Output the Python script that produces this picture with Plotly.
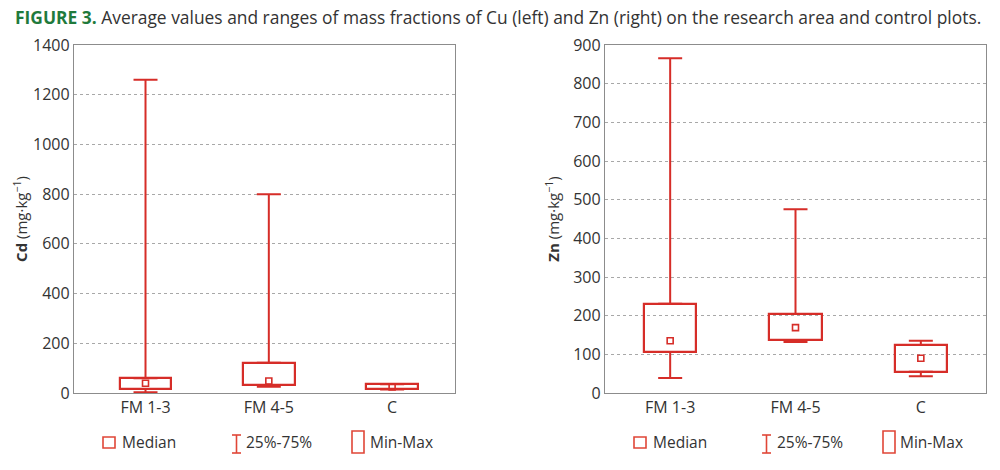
import plotly.graph_objects as go

# ---------------- data ----------------
categories = ["FM 1-3", "FM 4-5", "C"]
positions = [0, 1, 2]

cd_min = [3, 25, 14]
cd_q1 = [16, 32, 15]
cd_median = [39, 48, 24]
cd_q3 = [59, 122, 35]
cd_max = [1260, 800, 36]

zn_min = [39, 132, 43]
zn_q1 = [106, 137, 55]
zn_median = [135, 169, 90]
zn_q3 = [231, 204, 124]
zn_max = [866, 475, 135]

cd_ticks = [0, 200, 400, 600, 800, 1000, 1200, 1400]
zn_ticks = [0, 100, 200, 300, 400, 500, 600, 700, 800, 900]

legend_labels = ["Median", "25%-75%", "Min-Max"]

# ---------------- style ----------------
RED = "rgb(214,45,40)"
LEG_RED = "rgb(224,70,55)"
TXT = "#333333"
FONT = "Open Sans"
W, H = 1000, 470


def px_x(x):
    return x / W


def px_y(y):
    return 1 - y / H


fig = go.Figure()


def add_group(xa, ya, vmin, q1, med, q3, vmax):
    fig.add_trace(go.Bar(
        x=positions, base=q1, y=[b - a for a, b in zip(q1, q3)],
        width=0.42, marker=dict(color="rgba(255,255,255,0)", line=dict(color=RED, width=2.2)),
        xaxis=xa, yaxis=ya, showlegend=False, hoverinfo="skip"))
    fig.add_trace(go.Scatter(
        x=positions, y=q3, mode="markers", marker=dict(size=1, color="rgba(0,0,0,0)"),
        error_y=dict(type="data", symmetric=False, array=[b - a for a, b in zip(q3, vmax)],
                     arrayminus=[0, 0, 0], color=RED, thickness=2, width=12),
        xaxis=xa, yaxis=ya, showlegend=False, hoverinfo="skip"))
    fig.add_trace(go.Scatter(
        x=positions, y=q1, mode="markers", marker=dict(size=1, color="rgba(0,0,0,0)"),
        error_y=dict(type="data", symmetric=False, array=[0, 0, 0],
                     arrayminus=[a - b for a, b in zip(q1, vmin)], color=RED, thickness=2, width=12),
        xaxis=xa, yaxis=ya, showlegend=False, hoverinfo="skip"))
    fig.add_trace(go.Scatter(
        x=positions, y=med, mode="markers",
        marker=dict(symbol="square-open", size=6, color=RED, line=dict(width=1.6, color=RED)),
        xaxis=xa, yaxis=ya, showlegend=False, hoverinfo="skip"))


add_group("x", "y", cd_min, cd_q1, cd_median, cd_q3, cd_max)
add_group("x2", "y2", zn_min, zn_q1, zn_median, zn_q3, zn_max)

ydom = [px_y(393), px_y(45)]
axis_common = dict(showline=True, mirror=True, linecolor="#8c8c8c", linewidth=1.3,
                   zeroline=False, automargin=False,
                   tickfont=dict(family=FONT, size=16, color=TXT))

fig.update_layout(
    width=W, height=H,
    margin=dict(l=0, r=0, t=0, b=0),
    paper_bgcolor="white", plot_bgcolor="white",
    font=dict(family=FONT, color=TXT),
    bargap=0,
    xaxis=dict(domain=[px_x(74), px_x(455)], range=[-0.58, 2.51], tickvals=positions,
               ticktext=categories, showgrid=False, anchor="y", **axis_common),
    yaxis=dict(domain=ydom, range=[0, 1400], tickvals=cd_ticks, showgrid=True,
               gridcolor="#a8a8a8", griddash="dot", gridwidth=1, anchor="x",
               title=dict(text="<b>Cd</b> (mg·kg<sup>−1</sup>)", font=dict(family=FONT, size=15, color=TXT),
                          standoff=1),
               **axis_common),
    xaxis2=dict(domain=[px_x(605), px_x(986)], range=[-0.52, 2.52], tickvals=positions,
                ticktext=categories, showgrid=False, anchor="y2", **axis_common),
    yaxis2=dict(domain=ydom, range=[0, 900], tickvals=zn_ticks, showgrid=True,
                gridcolor="#a8a8a8", griddash="dot", gridwidth=1, anchor="x2",
                title=dict(text="<b>Zn</b> (mg·kg<sup>−1</sup>)", font=dict(family=FONT, size=15, color=TXT),
                           standoff=9),
                **axis_common),
)

fig.add_annotation(
    xref="paper", yref="paper", x=px_x(13), y=px_y(17), xanchor="left", yanchor="middle",
    showarrow=False,
    text='<b><span style="color:#1f7a3c">FIGURE 3.</span></b> Average values and ranges of mass fractions of Cu (left) and Zn (right) on the research area and control plots.',
    font=dict(family=FONT, size=17.4, color=TXT))


def add_legend(sq_x, bar_x, rect_x, txt_x):
    fig.add_shape(type="rect", xref="paper", yref="paper",
                  x0=px_x(sq_x), x1=px_x(sq_x + 12), y0=px_y(448), y1=px_y(437),
                  line=dict(color=LEG_RED, width=1.6))
    cx = bar_x + 4.5
    fig.add_shape(type="line", xref="paper", yref="paper",
                  x0=px_x(cx), x1=px_x(cx), y0=px_y(453), y1=px_y(435),
                  line=dict(color=LEG_RED, width=1.6))
    for yy in (435, 453):
        fig.add_shape(type="line", xref="paper", yref="paper",
                      x0=px_x(bar_x), x1=px_x(bar_x + 9), y0=px_y(yy), y1=px_y(yy),
                      line=dict(color=LEG_RED, width=1.6))
    fig.add_shape(type="rect", xref="paper", yref="paper",
                  x0=px_x(rect_x), x1=px_x(rect_x + 12), y0=px_y(453), y1=px_y(431),
                  line=dict(color=LEG_RED, width=1.6))
    for lbl, tx in zip(legend_labels, txt_x):
        fig.add_annotation(xref="paper", yref="paper", x=px_x(tx), y=px_y(442),
                           xanchor="left", yanchor="middle", showarrow=False,
                           text=lbl, font=dict(family=FONT, size=15.5, color=TXT))


add_legend(103, 232, 352, [120, 244, 368])
add_legend(634, 762, 883, [651, 775, 898])

fig.write_html("out.html",
               config={"displayModeBar": False},
               post_script="document.body.style.margin='0';document.body.style.overflow='hidden';")
